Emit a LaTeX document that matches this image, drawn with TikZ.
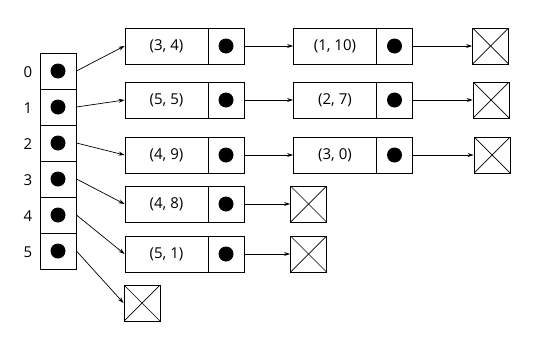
\documentclass[tikz,border=0pt]{standalone}
\usepackage{fontspec}
\setmainfont{Open Sans}
\usetikzlibrary{arrows.meta}
\tikzset{
  box/.style={draw, line width=0.9pt, inner sep=0pt, minimum height=36pt, font=\fontsize{15}{17}\selectfont},
  cell/.style={box, minimum width=36pt},
  ptr/.style={box, minimum width=36pt, path picture={\fill (path picture bounding box.center) circle (7.5pt);}},
  datab/.style={box, minimum width=83pt},
  nul/.style={box, minimum width=36pt, path picture={
      \draw[line width=0.7pt] (path picture bounding box.north west) -- (path picture bounding box.south east);
      \draw[line width=0.7pt] (path picture bounding box.south west) -- (path picture bounding box.north east);}},
  lbl/.style={font=\fontsize{15}{17}\selectfont, inner sep=0pt},
  link/.style={line width=0.7pt, -{Stealth[length=6pt,width=4pt]}}
}
\begin{document}
\begin{tikzpicture}[x=1pt,y=-1pt]
\useasboundingbox (0,0) rectangle (537,340);
% array
\foreach \i in {0,...,5}{
  \node[ptr] (a\i) at (58,{71+36*\i}) {};
  \node[lbl] (l\i) at (28,{72+36*\i}) {\i};
}
% row 0
\node[datab] (d0) at (166.5,46) {(3, 4)};
\node[ptr] (p0) at (226,46) {};
\node[datab] (e0) at (335,46) {(1, 10)};
\node[ptr] (q0) at (394.5,46) {};
\node[nul] (n0) at (490.5,46) {};
% row 1
\node[datab] (d1) at (166.5,100) {(5, 5)};
\node[ptr] (p1) at (226,100) {};
\node[datab] (e1) at (335,100) {(2, 7)};
\node[ptr] (q1) at (394.5,100) {};
\node[nul] (n1) at (491,100) {};
% row 2
\node[datab] (d2) at (166.5,155) {(4, 9)};
\node[ptr] (p2) at (226,155) {};
\node[datab] (e2) at (335,155) {(3, 0)};
\node[ptr] (q2) at (394.5,155) {};
\node[nul] (n2) at (492,155) {};
% row 3
\node[datab] (d3) at (166.5,204) {(4, 8)};
\node[ptr] (p3) at (226,204) {};
\node[nul] (n3) at (308.5,204) {};
% row 4
\node[datab] (d4) at (166.5,254) {(5, 1)};
\node[ptr] (p4) at (226,254) {};
\node[nul] (n4) at (308.5,254) {};
% row 5
\node[nul] (n5) at (142,303) {};
% links from array
\foreach \i in {0,...,4}{
  \draw[link] (a\i.east) -- (d\i.west);
}
\draw[link] (a5.east) -- (n5.west);
% links between nodes
\foreach \i in {0,1,2}{
  \draw[link] (p\i.east) -- (e\i.west);
  \draw[link] (q\i.east) -- (n\i.west);
}
\draw[link] (p3.east) -- (n3.west);
\draw[link] (p4.east) -- (n4.west);
\end{tikzpicture}
\end{document}
